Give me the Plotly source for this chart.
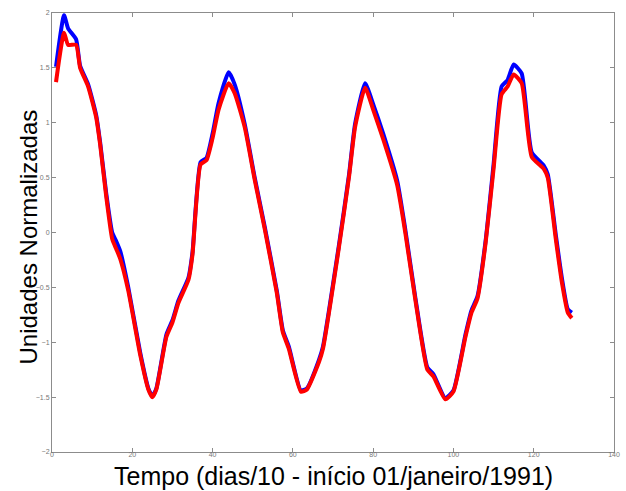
import plotly.graph_objects as go

x_vals = [1, 3, 4, 6, 7, 9, 11, 12, 13.5, 15, 16, 17, 19, 22, 24, 25, 26, 28.5, 30, 31.5,
          34, 35, 37, 38.5, 40, 41.5, 44, 45.5, 48, 50.5, 53, 56, 57.5, 59, 62, 63.5, 66.5,
          67.5, 71.5, 74, 75.5, 78, 80, 82.5, 86, 88, 90.5, 93.5, 95, 98, 100, 103, 104.5,
          106, 108, 110, 112, 113.5, 115, 117, 119.5, 122.5, 123.5, 125.5, 127, 128.5, 129.5]

red_vals = [1.37, 1.82, 1.71, 1.71, 1.50, 1.33, 1.05, 0.80, 0.33, -0.06, -0.15, -0.24, -0.53,
            -1.12, -1.43, -1.50, -1.43, -0.95, -0.82, -0.64, -0.43, -0.20, 0.62, 0.66, 0.86,
            1.12, 1.36, 1.27, 0.96, 0.48, 0.03, -0.55, -0.91, -1.06, -1.45, -1.43, -1.18,
            -1.06, -0.13, 0.51, 0.96, 1.32, 1.12, 0.85, 0.43, 0.00, -0.61, -1.25, -1.31,
            -1.52, -1.45, -0.95, -0.73, -0.60, -0.10, 0.58, 1.26, 1.33, 1.44, 1.36, 0.69,
            0.58, 0.50, -0.06, -0.45, -0.73, -0.78]

blue_vals = [1.51, 1.98, 1.86, 1.76, 1.52, 1.35, 1.07, 0.82, 0.36, 0.00, -0.08, -0.17, -0.50,
             -1.10, -1.42, -1.49, -1.42, -0.93, -0.80, -0.62, -0.41, -0.18, 0.64, 0.68, 0.90,
             1.18, 1.46, 1.35, 0.99, 0.50, 0.05, -0.53, -0.89, -1.04, -1.44, -1.42, -1.16,
             -1.04, -0.11, 0.53, 0.99, 1.36, 1.17, 0.90, 0.47, 0.03, -0.59, -1.23, -1.29,
             -1.51, -1.44, -0.93, -0.71, -0.58, -0.08, 0.62, 1.33, 1.39, 1.53, 1.45, 0.73,
             0.61, 0.53, -0.02, -0.41, -0.70, -0.73]

x_ticks = [0, 20, 40, 60, 80, 100, 120, 140]
y_ticks = [-2, -1.5, -1, -0.5, 0, 0.5, 1, 1.5, 2]

fig = go.Figure()
fig.add_trace(go.Scatter(x=x_vals, y=blue_vals, mode="lines",
                         line=dict(color="#0000ff", width=4, shape="spline", smoothing=0.5),
                         showlegend=False))
fig.add_trace(go.Scatter(x=x_vals, y=red_vals, mode="lines",
                         line=dict(color="#ff0000", width=4, shape="spline", smoothing=0.5),
                         showlegend=False))

axis_common = dict(showgrid=False, zeroline=False, showline=True, linecolor="#8c8c8c",
                   linewidth=1, mirror="ticks", ticks="inside", ticklen=4,
                   tickcolor="#8c8c8c", tickfont=dict(size=7, color="#777777",
                                                      family="Liberation Sans"))

fig.update_xaxes(range=[0, 140], tickvals=x_ticks, ticklabelstandoff=-4, **axis_common)
fig.update_yaxes(range=[-2, 2], tickvals=y_ticks, **axis_common)

fig.add_annotation(text="Tempo (dias/10 - início 01/janeiro/1991)", xref="paper", yref="paper",
                   x=0.5, y=-0.055, xanchor="center", yanchor="middle", showarrow=False,
                   font=dict(size=25, color="black", family="Liberation Sans"))
fig.add_annotation(text="Unidades Normalizadas", xref="paper", yref="paper",
                   x=-0.014, y=0.49, xanchor="right", yanchor="middle", textangle=-90,
                   showarrow=False,
                   font=dict(size=24, color="black", family="Liberation Sans"))

fig.update_layout(width=626, height=491, margin=dict(l=52, r=6, t=13, b=39),
                  plot_bgcolor="white", paper_bgcolor="white")

fig.write_html("out.html", config={"displayModeBar": False},
               post_script="document.body.style.margin='0';document.body.style.overflow='hidden';")
